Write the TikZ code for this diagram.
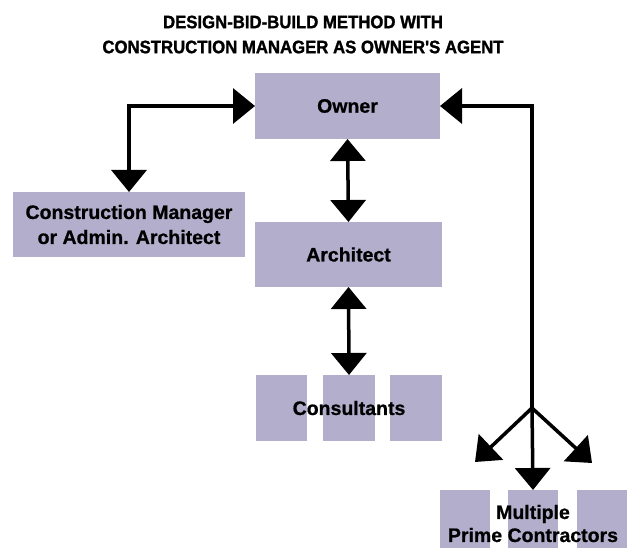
\documentclass[tikz,border=0pt]{standalone}
\usepackage{fontspec}
\setmainfont{Liberation Sans}
\newfontfamily\headfont[FakeStretch=0.93,FakeBold=1.4]{Liberation Sans}
\newfontfamily\boxfont[FakeBold=0.8]{Liberation Sans}
\usetikzlibrary{arrows.meta}
\definecolor{boxfill}{RGB}{178,174,204}
\begin{document}
\begin{tikzpicture}[x=1pt,y=-1pt,
  box/.style={fill=boxfill, draw=none, inner sep=0pt, outer sep=0pt},
  label/.style={inner sep=0pt, align=center, font=\boxfont\bfseries\fontsize{19.5}{25}\selectfont},
  link/.style={line width=3.5pt, draw=black},
  >={Triangle[width=35pt,length=22pt]}]
\useasboundingbox (0,0) rectangle (631,548);

% heading
\node[inner sep=0pt, align=center, font=\headfont\bfseries\fontsize{18}{25}\selectfont]
  (title) at (303,34.5) {DESIGN-BID-BUILD METHOD WITH\\CONSTRUCTION MANAGER AS OWNER'S AGENT};

% main boxes
\node[box, minimum width=185pt, minimum height=66pt] (owner) at (347.5,106) {};
\node[label] at (owner) {Owner};
\node[box, minimum width=187pt, minimum height=65pt] (arch) at (348.5,254.5) {};
\node[label] at (arch) {Architect};
\node[box, minimum width=232pt, minimum height=65pt] (cm) at (129,224.5) {};
\node[label] at (cm) {Construction Manager\\or Admin. Architect};

% consultants: three blocks behind one label
\node[box, minimum width=51pt, minimum height=66pt] (cons1) at (281.5,408) {};
\node[box, minimum width=52pt, minimum height=66pt] (cons2) at (349,408) {};
\node[box, minimum width=52pt, minimum height=66pt] (cons3) at (416,408) {};
\node[label] (cons) at (cons2) {Consultants};

% prime contractors: three blocks running off the bottom edge
\node[box, minimum width=50pt, minimum height=58pt] (prime1) at (465,519) {};
\node[box, minimum width=50pt, minimum height=58pt] (prime2) at (533,519) {};
\node[box, minimum width=50pt, minimum height=58pt] (prime3) at (602,519) {};
\node[label, font=\boxfont\bfseries\fontsize{19.5}{23}\selectfont] (primes) at (533,523.5) {Multiple\\Prime Contractors};

% connectors
\draw[link, <->] (cm.north) |- (owner.west);
\draw[link, <->] (owner.south) -- (arch.north);
\draw[link, <->] (arch.south) -- (cons2.north);

\coordinate (split) at (532,408);
\coordinate (tipL) at (475,462);
\coordinate (tipR) at (592,463);
\draw[link, ->] (split) |- (owner.east);
\draw[link, ->] (split) -- (tipL);
\draw[link, ->] (split) -- (tipR);
\draw[link, ->] (split) -- (prime2.north);
\end{tikzpicture}
\end{document}
